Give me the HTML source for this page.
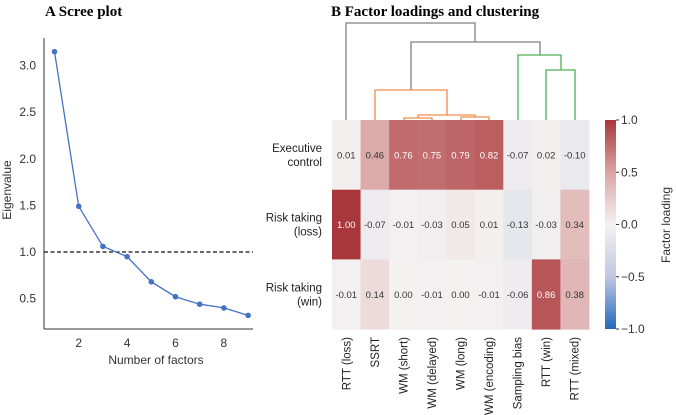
<!DOCTYPE html>
<html><head><meta charset="utf-8"><style>
body{margin:0;background:#fff;}
svg{display:block;font-family:"Liberation Sans",sans-serif;}
</style></head><body>
<svg id="fig" width="676" height="415" xmlns="http://www.w3.org/2000/svg">
<text x="45" y="16" font-family="Liberation Serif" font-weight="bold" font-size="15">A  Scree plot</text>
<text x="331" y="16" font-family="Liberation Serif" font-weight="bold" font-size="15">B  Factor loadings and clustering</text>
<g id="scree"></g>
<g id="heat"></g>
</svg>
<script>
const screeX=[1,2,3,4,5,6,7,8,9];
const screeY=[3.15,1.49,1.06,0.95,0.68,0.52,0.44,0.40,0.32];
const screeXTicks=[2,4,6,8];
const screeYTicks=[0.5,1.0,1.5,2.0,2.5,3.0];
const cols=["RTT (loss)","SSRT","WM (short)","WM (delayed)","WM (long)","WM (encoding)","Sampling bias","RTT (win)","RTT (mixed)"];
const rows=[["Executive","control"],["Risk taking","(loss)"],["Risk taking","(win)"]];
const rowExec=[0.01,0.46,0.76,0.75,0.79,0.82,-0.07,0.02,-0.10];
const rowLoss=[1.00,-0.07,-0.01,-0.03,0.05,0.01,-0.13,-0.03,0.34];
const rowWin=[-0.01,0.14,0.00,-0.01,0.00,-0.01,-0.06,0.86,0.38];
const cbTicks=[1.0,0.5,0.0,-0.5,-1.0];

const NS="http://www.w3.org/2000/svg";
function mk(p,t,a){const e=document.createElementNS(NS,t);for(const k in a)e.setAttribute(k,a[k]);p.appendChild(e);return e;}
const sg=document.getElementById('scree');
const sx=v=>54.5+(v-1)*24.2;
const sy=v=>252-(v-1)*93.2;
let e=mk(sg,'line',{x1:44,y1:38,x2:44,y2:329,stroke:'#333','stroke-width':1});

e=mk(sg,'line',{x1:44,y1:329,x2:253,y2:329,stroke:'#333','stroke-width':1});

screeXTicks.forEach(t=>{const l=mk(sg,'text',{x:sx(t),y:347,'text-anchor':'middle','font-size':12,fill:'#333'});l.textContent=t;
});
screeYTicks.forEach(t=>{const l=mk(sg,'text',{x:36,y:sy(t)+4,'text-anchor':'end','font-size':12,fill:'#333'});l.textContent=t.toFixed(1);
});
e=mk(sg,'text',{x:156,y:364,'text-anchor':'middle','font-size':12,fill:'#333'});e.textContent='Number of factors';

e=mk(sg,'text',{x:0,y:0,'text-anchor':'middle','font-size':12,fill:'#333',transform:'translate(11,190) rotate(-90)'});e.textContent='Eigenvalue';

e=mk(sg,'line',{x1:44,y1:sy(1),x2:253,y2:sy(1),stroke:'#111','stroke-width':1.2,'stroke-dasharray':'4,2.5'});

e=mk(sg,'polyline',{points:screeX.map((x,i)=>sx(x)+','+sy(screeY[i])).join(' '),fill:'none',stroke:'#4472c4','stroke-width':1.3});

screeX.forEach((x,i)=>{const c=mk(sg,'circle',{cx:sx(x),cy:sy(screeY[i]),r:2.8,fill:'#4472c4'});
});
const hg=document.getElementById('heat');
const x0=332,cw=28.55,y0=120,rh=69.7;
const stops=[[-1,[35,105,189]],[-0.5,[192,199,224]],[0,[244,241,241]],[0.5,[218,164,163]],[1,[169,55,59]]];
function col(v){for(let i=0;i<stops.length-1;i++){const[a,ca]=stops[i],[b,cb]=stops[i+1];if(v<=b||i==stops.length-2){const t=Math.max(0,Math.min(1,(v-a)/(b-a)));return 'rgb('+ca.map((c,k)=>Math.round(c+(cb[k]-c)*t)).join(',')+')';}}}
[rowExec,rowLoss,rowWin].forEach((r,ri)=>{
 r.forEach((v,ci)=>{
  const c=mk(hg,'rect',{x:x0+ci*cw,y:y0+ri*rh,width:cw+0.5,height:rh+0.5,fill:col(v)});
  
  const t=mk(hg,'text',{x:x0+(ci+0.5)*cw,y:y0+(ri+0.5)*rh+3.5,'text-anchor':'middle','font-size':9.5,fill:v>0.6?'#fff':'#333'});
  t.textContent=v.toFixed(2);
  
 });
 const l=mk(hg,'text',{x:322,y:y0+(ri+0.5)*rh-3,'text-anchor':'end','font-size':11.5,fill:'#222'});
 
 const a=mk(l,'tspan',{x:322});a.textContent=rows[ri][0];
 const b=mk(l,'tspan',{x:322,dy:14});b.textContent=rows[ri][1];
});
cols.forEach((c,ci)=>{const t=mk(hg,'text',{x:0,y:0,'text-anchor':'end','font-size':11.5,fill:'#222',transform:`translate(${x0+(ci+0.5)*cw+4},337) rotate(-90)`});
t.textContent=c;});
const segs=[
 ['#808080',[[346,120],[346,23],[475,23],[475,42]]],
 ['#808080',[[411,90],[411,42],[540,42],[540,55]]],
 ['#f08a4b',[[375,120],[375,90],[447,90],[447,115]]],
 ['#f08a4b',[[418,118],[418,115],[475,115],[475,117]]],
 ['#f08a4b',[[404,120],[404,118],[432,118],[432,120]]],
 ['#f08a4b',[[461,120],[461,117],[489,117],[489,120]]],
 ['#4caf50',[[518,120],[518,55],[561,55],[561,70]]],
 ['#4caf50',[[546,120],[546,70],[575,70],[575,120]]]];
segs.forEach(([c,p])=>{const l=mk(hg,'polyline',{points:p.map(q=>q.join(',')).join(' '),fill:'none',stroke:c,'stroke-width':1.3});
});
const defs=mk(hg,'defs',{});const g=mk(defs,'linearGradient',{id:'cb',x1:0,y1:1,x2:0,y2:0});
stops.forEach(([v,c])=>mk(g,'stop',{offset:(v+1)/2,'stop-color':'rgb('+c.join(',')+')'}));
e=mk(hg,'rect',{x:605,y:120,width:11,height:209,fill:'url(#cb)'});

cbTicks.forEach(v=>{const y=120+(1-v)/2*209;
 mk(hg,'line',{x1:616,y1:y,x2:619,y2:y,stroke:'#333'});
 const t=mk(hg,'text',{x:621,y:y+4,'font-size':12,fill:'#333'});t.textContent=(v<0?'\u2212':'')+Math.abs(v).toFixed(1);
 });
e=mk(hg,'text',{x:0,y:0,'text-anchor':'middle','font-size':12,fill:'#333',transform:'translate(670,225) rotate(-90)'});e.textContent='Factor loading';

</script>
</body></html>
